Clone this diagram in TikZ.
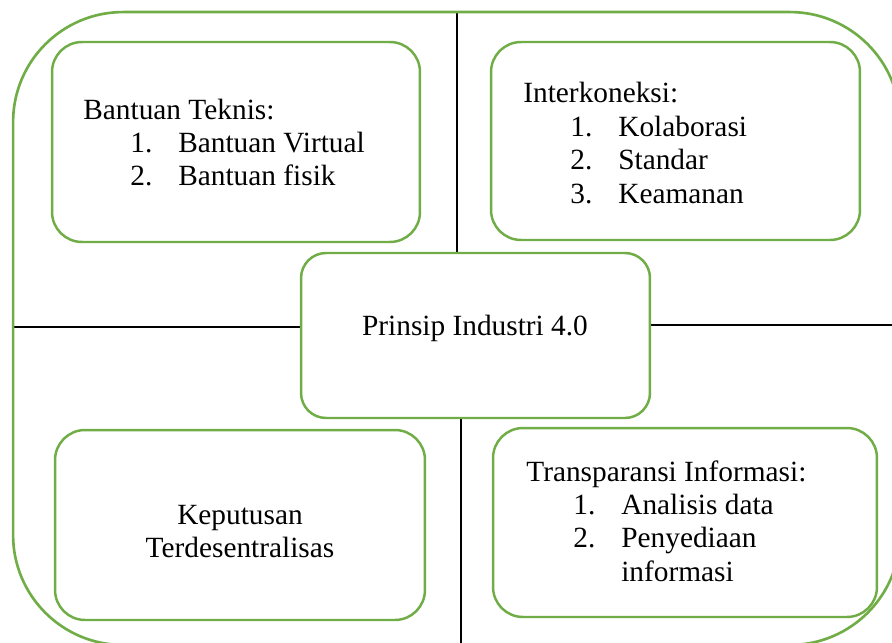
\documentclass[tikz,border=0pt]{standalone}
\usepackage{fontspec}
\setmainfont{Liberation Serif}
\usetikzlibrary{backgrounds}
\definecolor{hijau}{HTML}{70AD47}
\tikzset{
  bingkai/.style={draw=hijau, line width=1.5pt, rounded corners=2.2cm, inner sep=0pt},
  kotak/.style={draw=hijau, line width=1.4pt, rounded corners=0.6cm, fill=white, inner sep=0pt},
  teks/.style={inner sep=0pt, font=\fontsize{16.7}{19}\selectfont},
  garis/.style={draw=black, line width=0.7pt},
}
\newcommand{\butir}[2]{\hspace*{0.94cm}\makebox[0.96cm][l]{#1}#2}

\begin{document}
\begin{tikzpicture}[x=0.02cm,y=-0.02cm]
    \useasboundingbox (0,0) rectangle (892,642);
    \clip (0,0) rectangle (892,642);

    %% ---------- bingkai luar ----------
    \node[bingkai, minimum width=17.74cm, minimum height=12.66cm] (luar) at (456.5,328.5) {};

    %% ---------- kotak-kotak ----------
    \node[kotak, minimum width=7.36cm, minimum height=4cm]    (teknis)     at (236,142)     {};
    \node[kotak, minimum width=7.38cm, minimum height=3.96cm] (koneksi)    at (675.5,141)   {};
    \node[kotak, minimum width=6.98cm, minimum height=3.3cm, rounded corners=0.5cm] (prinsip) at (475.5,335.5) {};
    \node[kotak, minimum width=7.4cm,  minimum height=3.8cm]  (putusan)    at (240,525)     {};
    \node[kotak, minimum width=7.68cm, minimum height=3.78cm] (transparan) at (685,522.5)   {};

    %% ---------- isi teks ----------
    \node[teks, anchor=base west] (teknisT) at (83,119) {\begin{tabular}[t]{@{}l@{}}
      Bantuan Teknis:\\ \butir{1.}{Bantuan Virtual}\\ \butir{2.}{Bantuan fisik}\end{tabular}};
    \node[teks, anchor=base west] (koneksiT) at (523,103) {\begin{tabular}[t]{@{}l@{}}
      Interkoneksi:\\ \butir{1.}{Kolaborasi}\\ \butir{2.}{Standar}\\ \butir{3.}{Keamanan}\end{tabular}};
    \node[teks, anchor=base] (prinsipT) at (475,335) {Prinsip Industri 4.0};
    \node[teks, anchor=base] (putusanT) at (240,524) {\begin{tabular}[t]{@{}c@{}}
      Keputusan\\ Terdesentralisas\end{tabular}};
    \node[teks, anchor=base west] (transparanT) at (526,481) {\begin{tabular}[t]{@{}l@{}}
      Transparansi Informasi:\\ \butir{1.}{Analisis data}\\ \butir{2.}{Penyediaan}\\
      \hspace*{1.9cm}informasi\end{tabular}};

    %% ---------- garis pemisah (di belakang kotak) ----------
    \coordinate (atas)  at (457,0);
    \coordinate (bawah) at (461,0);
    \coordinate (kiri)  at (0,327);
    \coordinate (kanan) at (0,325);
    \begin{scope}[on background layer]
      \draw[garis] (prinsip.north -| atas)  -- (luar.north -| atas);
      \draw[garis] (prinsip.south -| bawah) -- (luar.south -| bawah);
      \draw[garis] (prinsip.west |- kiri)   -- (luar.west |- kiri);
      \draw[garis] (prinsip.east |- kanan)  -- (luar.east |- kanan);
    \end{scope}

\end{tikzpicture}
\end{document}
